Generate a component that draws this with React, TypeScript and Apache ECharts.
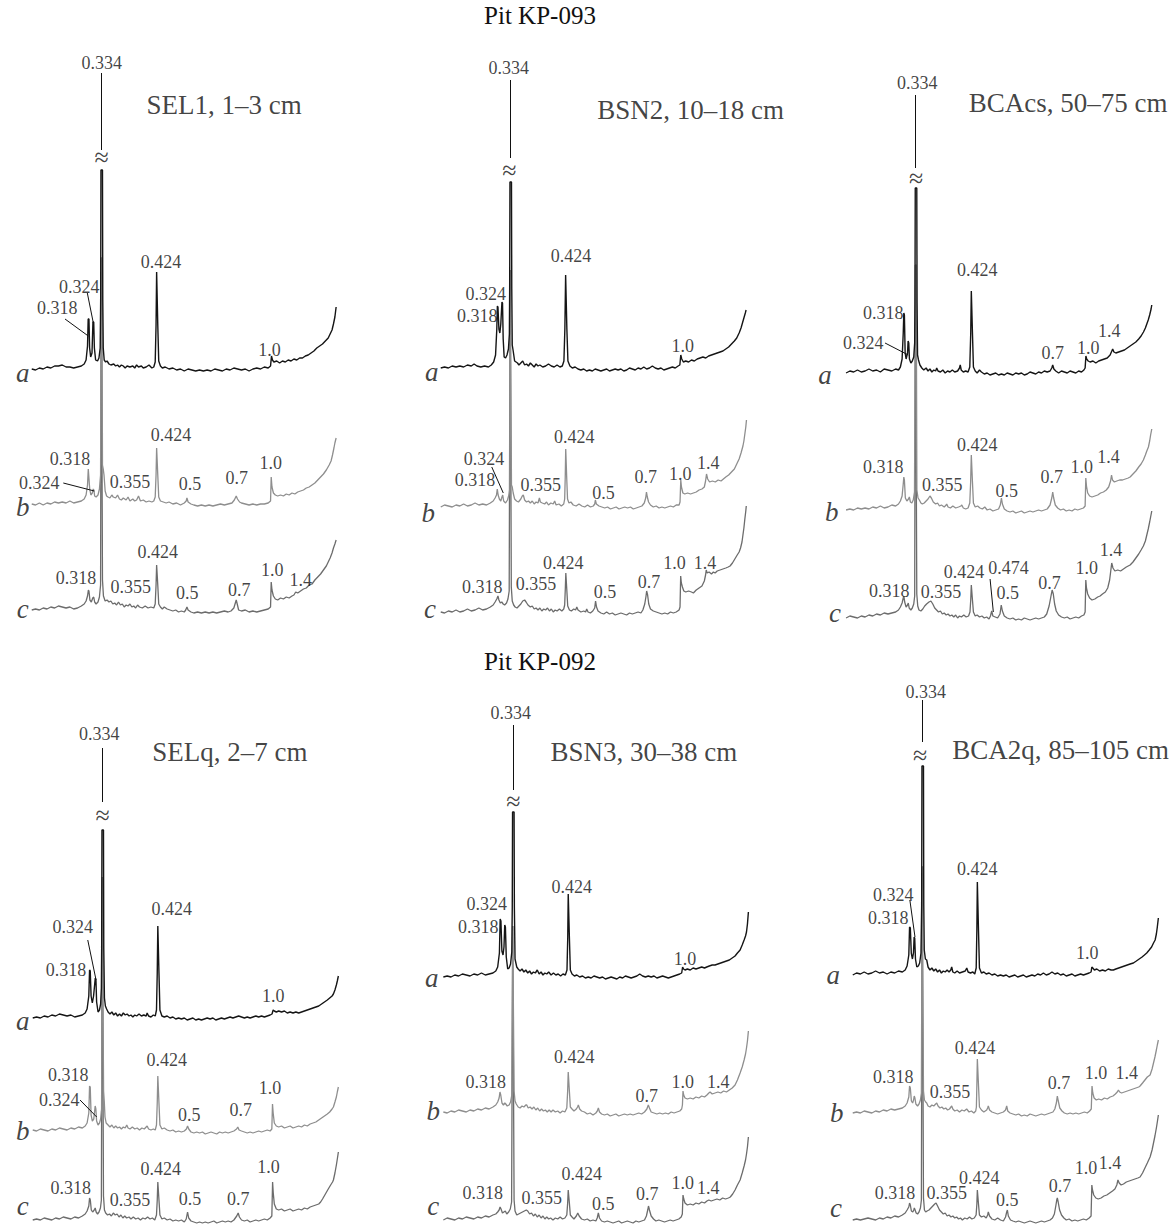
import React, { useEffect, useRef } from "react";
import * as echarts from "echarts";

// ---------- Data: [2θ (deg, CuKα), intensity above trace baseline] flat pairs ----------
// Panel 1: SEL1, 1–3 cm
const P1_A = [34.0,1, 33.6,0, 33.2,2, 32.8,1, 32.4,3, 32.0,2, 31.6,4, 31.2,4, 30.8,5, 30.4,3, 30.0,3, 29.6,2, 29.2,3, 28.8,4, 28.5,6, 28.3,10, 28.15,24, 28.08,51, 28.0,51, 27.93,22, 27.82,13, 27.68,17, 27.58,48, 27.5,48, 27.43,22, 27.3,10, 27.1,9, 26.95,12, 26.82,22, 26.77,70, 26.74,200, 26.58,200, 26.55,70, 26.5,22, 26.4,10, 26.25,8, 26.1,9, 25.9,6, 25.7,5, 25.4,6, 25.2,4, 25.0,5, 24.8,3, 24.6,5, 24.4,4, 24.2,2, 24.0,4, 23.7,3, 23.4,4, 23.2,2, 23.0,5, 22.8,3, 22.5,4, 22.3,2, 22.0,3, 21.7,5, 21.4,2, 21.2,3, 21.05,8, 20.96,45, 20.9,98, 20.84,98, 20.78,45, 20.68,9, 20.5,4, 20.3,2, 20.0,3, 19.6,1, 19.2,2, 18.8,0, 18.4,1, 18.0,-1, 17.6,1, 17.2,0, 16.8,-1, 16.4,0, 16.0,-1, 15.6,0, 15.2,-1, 14.8,1, 14.4,0, 14.0,-1, 13.6,1, 13.2,0, 12.8,2, 12.4,1, 12.0,0, 11.6,1, 11.2,-1, 10.8,1, 10.4,2, 10.0,1, 9.6,3, 9.2,2, 8.95,4, 8.85,14, 8.75,10, 8.6,8, 8.3,9, 8.0,7, 7.7,9, 7.4,8, 7.1,10, 6.8,9, 6.5,11, 6.2,10, 5.9,12, 5.6,12, 5.3,14, 5.0,15, 4.7,17, 4.4,19, 4.1,22, 3.8,24, 3.5,26, 3.2,29, 2.9,32, 2.7,36, 2.5,40, 2.35,46, 2.2,53, 2.07,63];
const P1_B = [34.0,1, 33.6,0, 33.2,2, 32.8,0, 32.4,2, 32.0,1, 31.6,3, 31.2,2, 30.8,3, 30.4,2, 30.0,4, 29.6,2, 29.2,3, 28.8,4, 28.5,6, 28.3,10, 28.15,20, 28.07,36, 28.0,36, 27.92,16, 27.8,10, 27.65,12, 27.55,16, 27.48,15, 27.4,9, 27.25,8, 27.05,10, 26.9,16, 26.78,30, 26.72,247, 26.64,247, 26.58,40, 26.5,36, 26.42,30, 26.3,14, 26.15,9, 26.0,8, 25.8,7, 25.6,10, 25.45,8, 25.2,7, 25.0,10, 24.8,6, 24.6,5, 24.4,7, 24.1,5, 23.9,8, 23.7,4, 23.4,6, 23.2,4, 23.0,5, 22.8,9, 22.6,4, 22.3,5, 22.0,3, 21.7,4, 21.4,3, 21.2,4, 21.05,8, 20.96,30, 20.9,57, 20.84,57, 20.78,30, 20.68,8, 20.5,4, 20.2,3, 19.9,2, 19.6,3, 19.2,1, 18.8,2, 18.4,0, 18.0,2, 17.8,4, 17.72,7, 17.6,3, 17.3,1, 17.0,0, 16.6,-1, 16.2,0, 15.8,-1, 15.4,0, 15.0,-1, 14.6,0, 14.2,1, 13.8,0, 13.4,1, 13.0,2, 12.75,5, 12.55,9, 12.42,6, 12.2,3, 12.0,2, 11.6,1, 11.2,0, 10.8,1, 10.4,0, 10.0,1, 9.6,1, 9.2,2, 8.95,4, 8.88,28, 8.8,18, 8.65,12, 8.45,10, 8.2,9, 7.9,10, 7.6,9, 7.3,11, 7.0,10, 6.7,12, 6.4,11, 6.1,13, 5.8,14, 5.5,15, 5.2,17, 4.9,18, 4.6,20, 4.3,22, 4.0,25, 3.7,28, 3.4,31, 3.1,35, 2.8,40, 2.6,44, 2.45,50, 2.3,57, 2.2,62, 2.07,67];
const P1_C = [34.0,0, 33.6,1, 33.2,0, 32.8,2, 32.4,1, 32.0,3, 31.6,2, 31.2,4, 30.8,3, 30.4,2, 30.0,3, 29.6,1, 29.2,2, 28.8,4, 28.5,6, 28.3,9, 28.15,14, 28.06,20, 28.0,19, 27.9,10, 27.75,8, 27.6,12, 27.5,13, 27.4,8, 27.25,6, 27.05,8, 26.9,13, 26.78,25, 26.71,352, 26.65,352, 26.58,30, 26.48,14, 26.3,9, 26.1,10, 25.9,8, 25.7,9, 25.5,6, 25.3,7, 25.1,5, 24.9,8, 24.7,5, 24.5,6, 24.3,3, 24.1,5, 23.9,4, 23.7,6, 23.5,3, 23.3,4, 23.1,2, 22.9,5, 22.7,3, 22.4,2, 22.1,4, 21.8,2, 21.5,3, 21.2,2, 21.05,6, 20.96,25, 20.9,45, 20.84,45, 20.78,25, 20.68,6, 20.5,3, 20.3,1, 20.1,3, 19.8,1, 19.5,0, 19.2,-1, 18.9,0, 18.6,-2, 18.3,-1, 18.0,-2, 17.85,0, 17.72,3, 17.6,0, 17.3,-2, 17.0,-3, 16.6,-2, 16.2,-3, 15.8,-2, 15.4,-3, 15.0,-2, 14.6,-3, 14.2,-2, 13.8,-1, 13.4,-2, 13.1,-1, 12.8,2, 12.55,10, 12.42,5, 12.3,0, 12.0,-1, 11.6,0, 11.2,-2, 10.8,-1, 10.4,-2, 10.0,-1, 9.6,0, 9.2,1, 8.95,3, 8.88,28, 8.8,20, 8.65,14, 8.45,11, 8.2,10, 7.9,12, 7.6,11, 7.3,13, 7.0,12, 6.7,14, 6.5,15, 6.31,18, 6.1,17, 5.8,19, 5.5,21, 5.2,22, 4.9,25, 4.6,26, 4.3,30, 4.0,33, 3.7,36, 3.4,40, 3.1,44, 2.9,48, 2.7,52, 2.5,57, 2.35,62, 2.2,66, 2.07,70];

// Panel 2: BSN2, 10–18 cm
const P2_A = [34.0,1, 33.6,2, 33.2,1, 32.8,3, 32.4,2, 32.0,3, 31.6,2, 31.2,4, 30.8,3, 30.5,5, 30.2,3, 29.8,2, 29.4,3, 29.0,2, 28.7,4, 28.45,7, 28.25,14, 28.12,40, 28.06,63, 28.0,62, 27.9,40, 27.8,36, 27.7,45, 27.58,67, 27.52,66, 27.45,30, 27.35,12, 27.2,11, 27.05,14, 26.9,20, 26.8,35, 26.77,80, 26.74,187, 26.58,187, 26.55,80, 26.5,24, 26.4,18, 26.25,8, 26.1,7, 25.95,6, 25.8,4, 25.6,6, 25.4,8, 25.2,4, 25.0,5, 24.8,3, 24.6,6, 24.4,4, 24.2,2, 24.0,5, 23.8,3, 23.6,4, 23.3,2, 23.0,3, 22.7,5, 22.4,3, 22.1,2, 21.8,4, 21.5,2, 21.25,3, 21.08,8, 20.98,40, 20.9,94, 20.84,94, 20.77,40, 20.66,8, 20.45,3, 20.2,1, 19.9,2, 19.6,0, 19.3,-1, 19.0,0, 18.7,-2, 18.4,-1, 18.1,-2, 17.8,0, 17.5,-1, 17.2,-2, 16.9,-1, 16.6,0, 16.3,-2, 16.0,-1, 15.7,0, 15.4,-1, 15.1,0, 14.8,-2, 14.5,-1, 14.2,1, 13.9,0, 13.6,-1, 13.3,1, 13.0,0, 12.7,2, 12.4,0, 12.1,1, 11.8,3, 11.5,1, 11.2,0, 10.9,1, 10.6,-1, 10.3,0, 10.0,1, 9.7,2, 9.4,1, 9.1,3, 8.92,4, 8.82,14, 8.72,10, 8.55,7, 8.3,8, 8.0,7, 7.7,9, 7.4,8, 7.1,10, 6.8,11, 6.5,12, 6.2,11, 5.9,13, 5.6,14, 5.3,15, 5.0,16, 4.7,17, 4.4,18, 4.1,20, 3.8,22, 3.5,25, 3.2,28, 2.95,31, 2.7,36, 2.5,41, 2.35,46, 2.2,51, 2.05,56, 1.97,59];
const P2_B = [34.0,0, 33.6,2, 33.2,1, 32.8,0, 32.4,2, 32.0,1, 31.6,3, 31.2,1, 30.8,2, 30.4,4, 30.0,2, 29.6,3, 29.2,2, 28.8,4, 28.5,6, 28.3,9, 28.15,12, 28.07,18, 27.98,12, 27.85,8, 27.7,6, 27.58,10, 27.5,12, 27.4,6, 27.2,4, 27.0,7, 26.85,12, 26.76,18, 26.71,237, 26.64,237, 26.58,22, 26.5,20, 26.4,14, 26.25,8, 26.05,6, 25.85,5, 25.6,8, 25.45,11, 25.34,12, 25.2,7, 25.0,5, 24.8,6, 24.6,4, 24.4,6, 24.2,3, 24.0,5, 23.8,4, 23.65,9, 23.55,5, 23.35,4, 23.1,3, 22.9,5, 22.7,2, 22.45,4, 22.2,3, 22.05,6, 21.9,2, 21.6,3, 21.35,1, 21.1,3, 21.0,8, 20.94,30, 20.89,58, 20.84,58, 20.79,30, 20.7,8, 20.55,4, 20.35,5, 20.1,2, 19.8,1, 19.5,3, 19.2,1, 18.9,0, 18.6,2, 18.3,0, 18.0,1, 17.85,3, 17.78,7, 17.68,3, 17.4,1, 17.1,0, 16.8,-1, 16.5,0, 16.2,-2, 15.9,-1, 15.6,0, 15.3,-2, 15.0,-1, 14.7,0, 14.4,-1, 14.1,0, 13.8,-2, 13.5,-1, 13.2,0, 12.9,1, 12.65,4, 12.5,9, 12.42,15, 12.33,10, 12.2,5, 12.0,2, 11.7,0, 11.4,1, 11.1,-1, 10.8,0, 10.5,-1, 10.2,0, 9.9,1, 9.6,0, 9.3,2, 9.0,2, 8.9,5, 8.82,27, 8.75,20, 8.6,14, 8.4,13, 8.1,14, 7.8,13, 7.5,14, 7.2,15, 6.9,17, 6.6,18, 6.35,20, 6.22,26, 6.12,33, 6.0,28, 5.8,25, 5.5,26, 5.2,25, 4.9,27, 4.6,26, 4.35,28, 4.1,30, 3.8,32, 3.5,35, 3.2,38, 2.95,43, 2.7,48, 2.5,54, 2.3,61, 2.2,66, 2.1,73, 2.0,80, 1.93,87];
const P2_C = [34.0,1, 33.6,0, 33.2,2, 32.8,1, 32.4,3, 32.0,1, 31.6,2, 31.2,4, 30.8,2, 30.4,3, 30.0,5, 29.6,3, 29.2,4, 28.8,6, 28.5,8, 28.3,11, 28.12,14, 28.0,17, 27.9,13, 27.75,10, 27.6,11, 27.45,9, 27.3,8, 27.1,10, 26.95,14, 26.82,22, 26.72,343, 26.66,343, 26.6,26, 26.5,12, 26.35,8, 26.2,6, 26.0,5, 25.8,7, 25.6,9, 25.4,12, 25.2,13, 25.05,11, 24.85,8, 24.6,6, 24.4,7, 24.2,4, 24.0,5, 23.8,3, 23.6,5, 23.4,2, 23.2,4, 23.0,3, 22.8,5, 22.6,2, 22.4,4, 22.2,1, 22.0,3, 21.8,2, 21.55,4, 21.3,2, 21.1,4, 21.0,8, 20.93,25, 20.88,40, 20.83,40, 20.77,22, 20.68,7, 20.5,3, 20.3,2, 20.05,4, 19.85,3, 19.73,6, 19.6,3, 19.3,1, 19.0,2, 18.8,1, 18.69,4, 18.55,1, 18.3,0, 18.05,2, 17.85,5, 17.76,12, 17.66,6, 17.5,2, 17.2,0, 16.9,-1, 16.6,1, 16.3,-1, 16.0,0, 15.7,-2, 15.4,-1, 15.1,0, 14.8,-1, 14.5,-2, 14.2,0, 13.9,-1, 13.6,0, 13.3,1, 13.0,0, 12.8,3, 12.6,9, 12.48,16, 12.4,22, 12.3,18, 12.18,9, 12.0,4, 11.7,2, 11.4,1, 11.1,0, 10.8,-1, 10.5,0, 10.2,-1, 9.9,1, 9.6,0, 9.3,1, 9.0,3, 8.9,6, 8.83,37, 8.76,30, 8.65,26, 8.5,22, 8.3,21, 8.0,22, 7.7,21, 7.5,20, 7.2,23, 6.9,25, 6.6,27, 6.35,32, 6.22,38, 6.15,43, 6.05,40, 5.85,41, 5.6,39, 5.4,41, 5.22,40, 5.0,42, 4.7,43, 4.4,44, 4.1,45, 3.85,46, 3.65,47, 3.4,50, 3.15,54, 2.9,58, 2.7,61, 2.55,65, 2.4,71, 2.3,78, 2.2,85, 2.1,94, 2.0,102, 1.95,107];

// Panel 3: BCAcs, 50–75 cm
const P3_A = [34.0,0, 33.6,2, 33.2,1, 32.8,3, 32.4,1, 32.0,2, 31.6,4, 31.2,2, 30.8,3, 30.4,1, 30.0,4, 29.6,3, 29.2,2, 28.8,4, 28.5,3, 28.3,6, 28.12,14, 28.0,40, 27.94,60, 27.88,58, 27.8,20, 27.7,14, 27.55,20, 27.49,32, 27.42,30, 27.35,14, 27.2,10, 27.05,12, 26.9,16, 26.8,30, 26.77,70, 26.74,185, 26.58,185, 26.55,70, 26.5,18, 26.4,13, 26.25,8, 26.05,5, 25.85,3, 25.6,5, 25.4,2, 25.2,4, 25.0,1, 24.8,3, 24.6,2, 24.49,5, 24.35,2, 24.1,1, 23.85,3, 23.6,0, 23.35,2, 23.1,1, 22.85,3, 22.6,1, 22.3,2, 22.1,5, 22.02,8, 21.92,3, 21.7,1, 21.45,2, 21.2,1, 21.02,6, 20.92,40, 20.86,82, 20.8,82, 20.74,40, 20.64,6, 20.45,2, 20.25,0, 20.0,3, 19.8,1, 19.5,-1, 19.2,0, 18.9,-2, 18.6,-1, 18.3,0, 18.0,-2, 17.7,-1, 17.4,-2, 17.1,0, 16.8,-1, 16.5,-2, 16.2,0, 15.9,-1, 15.6,0, 15.3,-2, 15.0,-1, 14.7,1, 14.4,0, 14.1,-1, 13.8,1, 13.5,0, 13.2,2, 12.9,1, 12.6,2, 12.42,5, 12.32,8, 12.2,4, 12.0,2, 11.7,0, 11.4,2, 11.1,1, 10.8,0, 10.5,2, 10.2,1, 9.9,0, 9.6,2, 9.3,1, 9.05,3, 8.92,5, 8.84,17, 8.76,14, 8.6,12, 8.4,11, 8.1,12, 7.8,10, 7.5,12, 7.2,13, 6.9,14, 6.6,15, 6.3,18, 6.12,22, 6.03,24, 5.9,21, 5.7,20, 5.4,21, 5.1,22, 4.8,23, 4.5,25, 4.2,27, 3.9,29, 3.6,31, 3.3,34, 3.05,37, 2.8,41, 2.6,45, 2.45,49, 2.3,53, 2.15,58, 2.0,64, 1.93,68];
const P3_B = [34.0,0, 33.6,1, 33.2,0, 32.8,2, 32.4,1, 32.0,2, 31.6,1, 31.2,3, 30.8,2, 30.4,4, 30.0,2, 29.6,3, 29.2,5, 28.8,4, 28.5,6, 28.3,9, 28.12,14, 28.0,26, 27.94,33, 27.88,30, 27.78,12, 27.62,9, 27.45,11, 27.36,13, 27.25,8, 27.1,7, 26.95,10, 26.82,18, 26.72,245, 26.64,245, 26.57,20, 26.45,12, 26.31,10, 26.15,7, 26.0,6, 25.8,7, 25.6,9, 25.4,11, 25.2,14, 25.05,12, 24.85,8, 24.6,6, 24.4,7, 24.2,4, 24.0,5, 23.7,3, 23.5,5, 23.44,6, 23.3,3, 23.05,2, 22.8,4, 22.5,2, 22.2,3, 21.95,4, 21.86,5, 21.7,2, 21.45,1, 21.2,2, 21.02,7, 20.93,28, 20.86,55, 20.8,55, 20.74,28, 20.64,7, 20.45,3, 20.2,4, 19.95,2, 19.7,1, 19.45,3, 19.2,0, 18.9,1, 18.6,-1, 18.3,0, 18.0,1, 17.82,5, 17.7,12, 17.6,6, 17.4,1, 17.1,-1, 16.8,-2, 16.5,-1, 16.2,-3, 15.9,-2, 15.6,-1, 15.3,-3, 15.0,-2, 14.7,-1, 14.4,-2, 14.1,-1, 13.8,0, 13.5,-1, 13.2,0, 12.9,1, 12.6,5, 12.42,12, 12.32,18, 12.22,12, 12.05,5, 11.8,2, 11.5,0, 11.2,1, 10.9,-1, 10.6,0, 10.3,-1, 10.0,1, 9.7,0, 9.4,1, 9.1,2, 8.92,4, 8.85,32, 8.78,24, 8.65,17, 8.45,14, 8.2,13, 7.9,14, 7.6,15, 7.3,17, 7.0,18, 6.7,20, 6.45,23, 6.25,29, 6.15,35, 6.05,30, 5.85,28, 5.6,29, 5.3,30, 5.0,30, 4.7,31, 4.4,32, 4.2,33, 3.9,36, 3.6,39, 3.3,43, 3.05,46, 2.81,50, 2.6,55, 2.45,59, 2.28,63, 2.15,69, 2.05,75, 1.93,81];
const P3_C = [34.0,0, 33.6,2, 33.2,1, 32.8,0, 32.4,2, 32.0,1, 31.6,3, 31.2,2, 30.8,4, 30.4,3, 30.0,5, 29.6,4, 29.2,5, 28.8,6, 28.5,8, 28.3,11, 28.12,15, 28.0,20, 27.93,22, 27.85,16, 27.7,11, 27.55,13, 27.47,15, 27.38,10, 27.2,8, 27.05,10, 26.9,14, 26.8,22, 26.72,353, 26.65,353, 26.58,24, 26.48,12, 26.35,8, 26.15,7, 25.95,9, 25.75,12, 25.55,14, 25.3,16, 25.1,17, 24.9,14, 24.7,10, 24.5,8, 24.3,6, 24.1,7, 23.9,4, 23.7,5, 23.5,3, 23.3,4, 23.1,2, 22.9,3, 22.7,1, 22.5,3, 22.3,0, 22.1,2, 21.9,1, 21.65,3, 21.4,1, 21.15,2, 21.0,6, 20.92,18, 20.86,33, 20.8,33, 20.74,18, 20.64,6, 20.45,2, 20.25,3, 20.0,1, 19.75,2, 19.5,0, 19.25,1, 19.0,-1, 18.85,2, 18.72,7, 18.6,2, 18.35,1, 18.1,0, 17.85,4, 17.72,13, 17.6,7, 17.4,2, 17.1,0, 16.8,-1, 16.5,0, 16.2,-2, 15.9,-1, 15.6,-2, 15.3,0, 15.0,-1, 14.7,-2, 14.4,-1, 14.1,0, 13.8,-1, 13.5,0, 13.2,1, 12.95,4, 12.7,12, 12.5,22, 12.38,28, 12.26,24, 12.12,14, 11.95,7, 11.7,3, 11.4,1, 11.1,0, 10.8,1, 10.5,-1, 10.2,0, 9.9,1, 9.6,0, 9.3,2, 9.05,3, 8.92,6, 8.85,38, 8.78,30, 8.65,24, 8.45,20, 8.2,18, 7.9,19, 7.6,21, 7.35,22, 7.1,24, 6.8,26, 6.55,30, 6.35,38, 6.22,48, 6.13,55, 6.0,50, 5.8,47, 5.5,48, 5.2,47, 4.9,49, 4.6,51, 4.2,53, 3.9,56, 3.6,60, 3.3,64, 3.05,68, 2.81,72, 2.6,77, 2.45,83, 2.3,89, 2.15,96, 2.05,101, 1.93,107];

// Panel 4: SELq, 2–7 cm
const P4_A = [34.0,0, 33.6,1, 33.2,0, 32.8,2, 32.4,1, 32.0,3, 31.6,2, 31.2,4, 30.8,3, 30.4,2, 30.0,3, 29.6,1, 29.2,2, 28.8,3, 28.5,5, 28.3,9, 28.12,22, 28.04,48, 27.97,47, 27.88,22, 27.75,15, 27.62,22, 27.44,40, 27.37,38, 27.3,16, 27.15,6, 27.0,8, 26.88,14, 26.8,30, 26.77,70, 26.74,188, 26.58,188, 26.55,70, 26.48,20, 26.38,12, 26.25,9, 26.1,6, 25.9,4, 25.7,6, 25.5,3, 25.3,5, 25.1,2, 24.9,4, 24.7,2, 24.5,5, 24.3,3, 24.1,4, 23.9,2, 23.7,3, 23.5,1, 23.3,3, 23.1,2, 22.85,4, 22.6,2, 22.35,3, 22.1,2, 22.0,5, 21.85,2, 21.6,1, 21.35,3, 21.15,2, 21.02,8, 20.94,45, 20.88,92, 20.82,92, 20.76,45, 20.66,8, 20.45,2, 20.2,1, 19.9,2, 19.6,0, 19.3,1, 19.0,-1, 18.7,0, 18.4,-1, 18.1,0, 17.8,-2, 17.5,-1, 17.2,0, 16.9,-2, 16.6,-1, 16.3,-2, 16.0,-1, 15.7,0, 15.4,-1, 15.1,0, 14.8,-2, 14.5,-1, 14.2,0, 13.9,-1, 13.6,0, 13.3,1, 13.0,0, 12.7,1, 12.4,2, 12.1,1, 11.8,0, 11.5,1, 11.2,0, 10.9,1, 10.6,2, 10.3,1, 10.0,2, 9.7,1, 9.4,2, 9.1,3, 8.9,4, 8.78,8, 8.66,7, 8.45,6, 8.2,7, 7.9,6, 7.6,7, 7.3,5, 7.0,6, 6.7,5, 6.4,6, 6.1,5, 5.8,6, 5.5,7, 5.2,8, 4.9,9, 4.6,10, 4.3,11, 4.0,12, 3.7,14, 3.4,16, 3.1,18, 2.85,20, 2.6,22, 2.46,24, 2.3,28, 2.15,33, 2.05,37, 1.94,42];
const P4_B = [34.0,1, 33.6,0, 33.2,2, 32.8,1, 32.4,0, 32.0,2, 31.6,1, 31.2,3, 30.8,2, 30.4,1, 30.0,3, 29.6,2, 29.2,4, 28.8,3, 28.5,5, 28.3,8, 28.12,18, 28.04,45, 27.97,44, 27.88,16, 27.75,10, 27.6,12, 27.45,25, 27.38,22, 27.3,10, 27.15,6, 27.0,8, 26.88,12, 26.78,22, 26.71,254, 26.64,254, 26.57,40, 26.5,30, 26.42,14, 26.3,8, 26.1,6, 25.9,4, 25.7,6, 25.5,3, 25.3,5, 25.1,3, 24.9,4, 24.7,2, 24.5,4, 24.3,3, 24.14,6, 24.0,3, 23.8,2, 23.55,4, 23.3,2, 23.05,3, 22.8,1, 22.55,3, 22.3,2, 22.1,4, 22.0,5, 21.85,2, 21.6,1, 21.35,2, 21.15,1, 21.02,6, 20.94,28, 20.88,55, 20.82,55, 20.76,28, 20.66,6, 20.45,2, 20.2,3, 19.9,1, 19.6,0, 19.3,1, 19.0,-1, 18.7,0, 18.4,-1, 18.1,0, 17.88,2, 17.76,5, 17.64,2, 17.4,-1, 17.1,-2, 16.8,-1, 16.5,-2, 16.2,-1, 15.9,-3, 15.6,-2, 15.3,-1, 15.0,-2, 14.7,-3, 14.4,-1, 14.1,-2, 13.8,-1, 13.5,-2, 13.2,-1, 12.9,0, 12.62,2, 12.49,4, 12.36,1, 12.1,0, 11.8,-1, 11.5,-2, 11.2,-1, 10.9,-2, 10.6,-1, 10.3,0, 10.0,-1, 9.7,0, 9.4,1, 9.1,0, 8.92,2, 8.85,27, 8.78,18, 8.66,8, 8.45,5, 8.2,4, 7.9,5, 7.6,3, 7.3,4, 7.0,5, 6.7,3, 6.4,4, 6.1,5, 5.8,4, 5.5,6, 5.2,5, 4.9,7, 4.6,8, 4.3,9, 4.0,11, 3.7,13, 3.4,15, 3.1,17, 2.85,19, 2.6,22, 2.46,24, 2.3,29, 2.15,34, 2.05,39, 1.94,44];
const P4_C = [34.0,0, 33.6,1, 33.2,0, 32.8,2, 32.4,1, 32.0,0, 31.6,2, 31.2,1, 30.8,3, 30.4,2, 30.0,1, 29.6,3, 29.2,2, 28.8,4, 28.5,6, 28.3,9, 28.12,14, 28.04,22, 27.96,20, 27.86,10, 27.72,8, 27.55,10, 27.45,12, 27.35,8, 27.2,6, 27.05,8, 26.9,12, 26.8,20, 26.71,343, 26.65,343, 26.58,24, 26.48,10, 26.35,7, 26.15,5, 25.95,6, 25.75,4, 25.55,7, 25.35,5, 25.15,6, 24.95,3, 24.75,5, 24.55,2, 24.35,4, 24.15,2, 23.9,3, 23.7,1, 23.45,3, 23.2,1, 22.95,2, 22.7,0, 22.45,2, 22.2,1, 21.95,3, 21.7,1, 21.45,2, 21.2,0, 21.02,5, 20.94,20, 20.88,38, 20.82,38, 20.76,20, 20.66,5, 20.45,1, 20.2,2, 19.9,0, 19.6,1, 19.3,-1, 19.0,0, 18.7,-1, 18.4,0, 18.1,-2, 17.9,1, 17.76,8, 17.64,2, 17.4,-1, 17.1,-2, 16.8,-3, 16.5,-2, 16.2,-3, 15.9,-2, 15.6,-3, 15.3,-2, 15.0,-1, 14.7,-3, 14.4,-2, 14.1,-1, 13.8,-2, 13.5,-1, 13.2,-2, 12.9,0, 12.6,4, 12.45,7, 12.32,3, 12.1,0, 11.8,-1, 11.5,0, 11.2,-2, 10.9,-1, 10.6,0, 10.3,-1, 10.0,0, 9.7,1, 9.4,0, 9.1,2, 8.92,4, 8.84,38, 8.77,27, 8.66,16, 8.45,11, 8.2,10, 7.9,11, 7.6,9, 7.3,10, 7.0,11, 6.7,9, 6.4,10, 6.1,11, 5.8,10, 5.5,12, 5.2,11, 4.9,13, 4.6,14, 4.3,15, 4.0,16, 3.8,18, 3.6,21, 3.3,26, 3.0,31, 2.75,35, 2.55,38, 2.46,40, 2.3,47, 2.15,55, 2.05,61, 1.94,68];

// Panel 5: BSN3, 30–38 cm
const P5_A = [34.0,0, 33.6,1, 33.2,0, 32.8,2, 32.4,1, 32.0,3, 31.6,2, 31.2,1, 30.8,3, 30.4,2, 30.0,4, 29.6,2, 29.2,3, 28.8,4, 28.5,6, 28.3,10, 28.12,24, 28.04,58, 27.96,56, 27.86,26, 27.74,22, 27.64,30, 27.56,52, 27.49,50, 27.4,20, 27.25,8, 27.1,9, 26.95,13, 26.82,25, 26.77,70, 26.74,165, 26.58,165, 26.55,70, 26.48,18, 26.3,10, 26.15,8, 25.95,6, 25.75,8, 25.55,5, 25.35,7, 25.15,4, 24.95,6, 24.75,3, 24.55,5, 24.35,4, 24.15,7, 23.95,3, 23.75,5, 23.55,2, 23.35,4, 23.15,3, 22.95,5, 22.7,2, 22.45,4, 22.2,2, 21.95,3, 21.7,1, 21.45,3, 21.2,2, 21.03,7, 20.95,40, 20.9,83, 20.84,83, 20.78,40, 20.68,7, 20.5,3, 20.25,1, 20.0,2, 19.7,0, 19.4,1, 19.1,-1, 18.8,0, 18.5,-1, 18.2,1, 17.9,0, 17.6,-1, 17.3,0, 17.0,-2, 16.7,-1, 16.4,0, 16.1,-1, 15.8,-2, 15.5,0, 15.2,-1, 14.9,1, 14.6,0, 14.3,-1, 14.0,0, 13.7,1, 13.4,3, 13.1,1, 12.8,0, 12.5,1, 12.2,0, 11.9,1, 11.6,-1, 11.3,0, 11.0,1, 10.7,0, 10.4,-1, 10.1,0, 9.8,1, 9.5,2, 9.2,3, 9.0,4, 8.9,10, 8.8,8, 8.65,7, 8.4,8, 8.1,7, 7.8,9, 7.5,8, 7.2,9, 6.9,10, 6.6,9, 6.37,10, 6.1,11, 5.8,12, 5.5,12, 5.2,13, 4.9,14, 4.6,15, 4.3,16, 4.0,17, 3.7,19, 3.4,21, 3.15,24, 2.87,27, 2.65,32, 2.45,37, 2.3,41, 2.2,45, 2.1,53, 2.0,65];
const P5_B = [34.0,1, 33.6,0, 33.2,2, 32.8,1, 32.4,3, 32.0,2, 31.6,1, 31.2,3, 30.8,2, 30.4,4, 30.0,3, 29.6,5, 29.2,4, 28.8,6, 28.5,8, 28.3,11, 28.15,15, 28.06,21, 27.98,18, 27.85,10, 27.7,8, 27.55,10, 27.45,9, 27.3,7, 27.1,8, 26.95,11, 26.82,18, 26.72,187, 26.65,187, 26.58,22, 26.48,12, 26.35,9, 26.15,6, 25.95,5, 25.75,7, 25.55,6, 25.35,8, 25.25,8, 25.1,5, 24.9,6, 24.7,4, 24.5,6, 24.3,3, 24.1,5, 23.9,2, 23.7,4, 23.5,2, 23.3,3, 23.1,1, 22.9,3, 22.7,1, 22.5,3, 22.25,1, 22.0,2, 21.75,0, 21.5,2, 21.25,1, 21.05,5, 20.96,22, 20.9,41, 20.84,41, 20.78,22, 20.68,6, 20.5,4, 20.3,2, 20.05,4, 19.92,6, 19.84,8, 19.7,4, 19.5,2, 19.2,1, 18.9,-1, 18.6,0, 18.3,-2, 18.0,0, 17.85,2, 17.74,5, 17.62,1, 17.4,-1, 17.1,-2, 16.8,-1, 16.5,-3, 16.2,-2, 15.9,-1, 15.6,-3, 15.3,-2, 15.0,-1, 14.7,-2, 14.4,-1, 14.1,-2, 13.8,-1, 13.5,0, 13.2,-1, 12.9,1, 12.65,4, 12.5,8, 12.38,5, 12.2,1, 11.9,0, 11.6,-1, 11.3,0, 11.0,-1, 10.7,0, 10.4,-1, 10.1,1, 9.8,0, 9.5,1, 9.2,2, 9.0,4, 8.92,8, 8.86,22, 8.79,18, 8.65,15, 8.4,14, 8.1,15, 7.8,14, 7.5,16, 7.2,15, 6.9,17, 6.6,16, 6.35,18, 6.15,20, 6.02,21, 5.8,19, 5.5,20, 5.2,21, 4.9,20, 4.6,22, 4.3,21, 4.0,23, 3.7,25, 3.4,28, 3.15,33, 2.87,40, 2.65,46, 2.45,53, 2.3,59, 2.2,65, 2.1,72, 2.0,82];
const P5_C = [34.0,0, 33.6,2, 33.2,1, 32.8,0, 32.4,2, 32.0,1, 31.6,3, 31.2,2, 30.8,1, 30.4,3, 30.0,2, 29.6,4, 29.2,3, 28.8,5, 28.5,6, 28.3,8, 28.15,10, 28.05,13, 27.95,11, 27.8,7, 27.65,8, 27.5,9, 27.35,6, 27.15,8, 26.98,11, 26.84,18, 26.72,294, 26.65,294, 26.58,20, 26.48,9, 26.3,5, 26.1,6, 25.9,7, 25.7,8, 25.5,9, 25.3,10, 25.15,9, 24.95,6, 24.75,7, 24.55,4, 24.35,6, 24.15,3, 23.95,5, 23.75,2, 23.55,4, 23.35,1, 23.15,3, 22.95,1, 22.75,2, 22.5,0, 22.25,2, 22.0,1, 21.75,3, 21.5,1, 21.25,2, 21.05,5, 20.96,17, 20.9,30, 20.84,30, 20.78,17, 20.68,5, 20.5,3, 20.3,1, 20.05,4, 19.9,7, 19.75,4, 19.5,1, 19.2,0, 18.9,1, 18.6,-1, 18.3,0, 18.0,-1, 17.86,2, 17.74,7, 17.62,2, 17.4,-1, 17.1,-2, 16.8,-1, 16.5,-2, 16.2,-3, 15.9,-2, 15.6,-1, 15.3,-3, 15.0,-2, 14.7,-1, 14.4,-2, 14.1,-3, 13.8,-1, 13.5,-2, 13.2,-1, 12.9,0, 12.7,4, 12.56,10, 12.48,14, 12.38,10, 12.2,4, 11.95,1, 11.7,-1, 11.4,0, 11.1,-1, 10.8,-2, 10.5,-1, 10.2,0, 9.9,-1, 9.6,0, 9.3,1, 9.05,3, 8.93,6, 8.86,25, 8.78,21, 8.65,17, 8.4,15, 8.1,16, 7.8,15, 7.5,17, 7.2,16, 6.9,18, 6.6,17, 6.35,19, 6.15,20, 5.9,19, 5.6,20, 5.3,21, 5.0,20, 4.7,22, 4.4,21, 4.1,22, 3.9,23, 3.65,26, 3.4,30, 3.15,35, 2.87,40, 2.65,47, 2.45,54, 2.3,60, 2.2,66, 2.1,73, 2.0,83];

// Panel 6: BCA2q, 85–105 cm
const P6_A = [34.0,0, 33.6,2, 33.2,1, 32.8,3, 32.4,1, 32.0,2, 31.6,4, 31.2,2, 30.8,3, 30.4,1, 30.0,3, 29.6,2, 29.2,4, 28.8,3, 28.5,5, 28.3,9, 28.12,20, 28.04,48, 27.96,47, 27.86,22, 27.74,16, 27.63,22, 27.56,38, 27.5,37, 27.42,16, 27.28,8, 27.12,9, 26.98,12, 26.84,22, 26.77,70, 26.74,209, 26.58,209, 26.55,70, 26.5,25, 26.38,16, 26.24,15, 26.1,8, 25.9,5, 25.7,7, 25.5,4, 25.3,6, 25.1,3, 24.9,5, 24.7,2, 24.5,4, 24.3,3, 24.1,5, 23.9,3, 23.72,5, 23.62,8, 23.5,3, 23.3,2, 23.05,4, 22.8,2, 22.5,3, 22.2,4, 22.04,7, 21.9,3, 21.65,2, 21.4,3, 21.2,1, 21.05,7, 20.98,45, 20.93,93, 20.87,93, 20.81,45, 20.71,7, 20.5,2, 20.25,3, 20.0,1, 19.7,2, 19.4,0, 19.1,1, 18.8,-1, 18.5,0, 18.2,-1, 17.9,0, 17.6,-2, 17.3,-1, 17.0,0, 16.7,-2, 16.4,-1, 16.1,0, 15.8,-2, 15.5,-1, 15.2,0, 14.9,-1, 14.6,1, 14.3,0, 14.0,2, 13.7,0, 13.4,1, 13.1,3, 12.8,1, 12.5,2, 12.2,0, 11.9,1, 11.6,-1, 11.3,0, 11.0,1, 10.7,-1, 10.4,0, 10.1,1, 9.8,0, 9.5,1, 9.2,2, 9.0,3, 8.92,8, 8.82,7, 8.65,5, 8.4,6, 8.1,4, 7.8,5, 7.5,4, 7.2,6, 6.9,5, 6.66,5, 6.4,6, 6.1,7, 5.8,8, 5.5,9, 5.2,10, 4.9,11, 4.56,12, 4.25,14, 3.95,16, 3.65,18, 3.4,20, 3.16,22, 2.9,25, 2.65,28, 2.45,32, 2.28,35, 2.15,41, 2.05,48, 1.94,57];
const P6_B = [34.0,0, 33.6,1, 33.2,0, 32.8,2, 32.4,1, 32.0,0, 31.6,2, 31.2,1, 30.8,3, 30.4,2, 30.0,4, 29.6,3, 29.2,4, 28.8,5, 28.5,7, 28.3,10, 28.12,16, 28.04,27, 27.96,25, 27.85,12, 27.72,10, 27.62,13, 27.55,17, 27.48,15, 27.38,9, 27.2,7, 27.05,9, 26.9,13, 26.8,20, 26.72,247, 26.65,247, 26.58,22, 26.48,13, 26.35,11, 26.24,10, 26.1,7, 25.9,6, 25.7,8, 25.5,7, 25.3,9, 25.19,10, 25.05,7, 24.85,5, 24.65,6, 24.45,4, 24.25,5, 24.05,3, 23.85,4, 23.7,6, 23.62,7, 23.5,4, 23.3,2, 23.05,3, 22.8,1, 22.55,3, 22.3,2, 22.05,4, 21.8,1, 21.55,2, 21.3,0, 21.1,2, 21.03,6, 20.98,28, 20.93,54, 20.87,54, 20.81,28, 20.71,6, 20.5,3, 20.25,1, 19.95,3, 19.85,5, 19.78,7, 19.65,3, 19.4,1, 19.1,0, 18.8,-1, 18.5,0, 18.2,1, 17.97,3, 17.85,7, 17.74,2, 17.5,0, 17.2,-1, 16.9,-2, 16.6,-1, 16.3,-3, 16.0,-2, 15.7,-3, 15.4,-1, 15.1,-2, 14.8,-3, 14.5,-2, 14.2,-1, 13.9,-2, 13.6,-1, 13.3,0, 13.0,1, 12.8,4, 12.64,10, 12.54,17, 12.44,12, 12.28,5, 12.05,2, 11.8,0, 11.5,-1, 11.2,0, 10.9,-1, 10.6,0, 10.3,-1, 10.0,0, 9.7,1, 9.4,0, 9.15,2, 8.98,4, 8.9,27, 8.82,20, 8.68,15, 8.45,13, 8.2,14, 7.9,13, 7.6,15, 7.3,14, 7.0,16, 6.7,17, 6.45,19, 6.25,21, 6.13,23, 6.0,21, 5.8,20, 5.5,21, 5.2,22, 4.9,23, 4.6,24, 4.3,25, 4.0,26, 3.86,27, 3.6,30, 3.35,33, 3.1,36, 2.81,38, 2.6,44, 2.45,50, 2.3,56, 2.15,63, 2.05,68, 1.94,73];
const P6_C = [34.0,0, 33.6,1, 33.2,0, 32.8,1, 32.4,2, 32.0,1, 31.6,0, 31.2,2, 30.8,1, 30.4,3, 30.0,2, 29.6,4, 29.2,3, 28.8,5, 28.5,7, 28.3,10, 28.12,13, 28.04,17, 27.96,15, 27.85,9, 27.7,8, 27.6,10, 27.54,12, 27.46,10, 27.35,7, 27.2,6, 27.05,8, 26.9,12, 26.8,20, 26.72,353, 26.65,353, 26.58,22, 26.48,10, 26.35,8, 26.2,9, 26.0,10, 25.8,12, 25.6,14, 25.4,16, 25.26,17, 25.1,14, 24.9,10, 24.7,8, 24.5,6, 24.3,7, 24.1,4, 23.9,5, 23.7,3, 23.5,4, 23.3,2, 23.1,3, 22.9,1, 22.7,2, 22.5,0, 22.25,2, 22.0,1, 21.75,3, 21.5,1, 21.25,2, 21.06,5, 20.98,16, 20.93,30, 20.87,30, 20.81,16, 20.71,5, 20.5,3, 20.25,4, 20.0,2, 19.85,5, 19.78,8, 19.65,4, 19.4,1, 19.1,0, 18.8,2, 18.5,0, 18.2,-1, 17.97,3, 17.85,8, 17.78,10, 17.68,4, 17.45,0, 17.2,-1, 16.9,-2, 16.6,-1, 16.3,-2, 16.0,-3, 15.7,-2, 15.4,-1, 15.1,-2, 14.8,-3, 14.5,-2, 14.2,-1, 13.9,-2, 13.6,-1, 13.3,0, 13.05,2, 12.85,6, 12.7,14, 12.6,20, 12.54,22, 12.45,18, 12.3,10, 12.1,5, 11.85,2, 11.6,0, 11.3,1, 11.0,-1, 10.7,0, 10.4,-1, 10.1,0, 9.8,1, 9.5,0, 9.2,2, 9.0,4, 8.92,35, 8.85,30, 8.72,25, 8.5,22, 8.25,21, 7.95,22, 7.65,24, 7.35,25, 7.05,27, 6.75,29, 6.5,31, 6.3,35, 6.18,40, 6.05,37, 5.85,35, 5.6,36, 5.3,38, 5.0,39, 4.7,40, 4.4,41, 4.1,42, 3.86,43, 3.6,47, 3.35,52, 3.1,57, 2.81,63, 2.6,70, 2.45,77, 2.3,84, 2.15,92, 2.05,98, 1.94,105];

// ---------- Texts ----------
const PIT_TITLES = ["Pit KP-093", "Pit KP-092"];
const PANEL_TITLES = ["SEL1, 1–3 cm", "BSN2, 10–18 cm", "BCAcs, 50–75 cm", "SELq, 2–7 cm", "BSN3, 30–38 cm", "BCA2q, 85–105 cm"];
const QUARTZ_LABEL = "0.334";
const BREAK_MARK = "≈";

// peak labels: [trace, text, 2θ, height above trace baseline]
const P1_LABELS: any[] = [["a","0.318",31.32,62],["a","0.324",29.01,83],["a","0.424",20.44,108],["a","1.0",9.07,20],
  ["b","0.318",29.99,46],["b","0.324",33.21,22],["b","0.355",23.69,23],["b","0.424",19.39,70],["b","0.5",17.39,21],["b","0.7",12.49,27],["b","1.0",8.93,42],
  ["c","0.318",29.36,32],["c","0.355",23.62,23],["c","0.424",20.78,58],["c","0.5",17.68,17],["c","0.7",12.22,20],["c","1.0",8.76,40],["c","1.4",5.78,30]];
const P2_LABELS: any[] = [["a","0.324",29.28,75],["a","0.318",30.16,53],["a","0.424",20.33,113],["a","1.0",8.61,23],
  ["b","0.424",19.99,70],["b","0.324",29.46,48],["b","0.318",30.41,27],["b","0.355",23.51,22],["b","0.5",16.94,14],["b","0.7",12.49,30],["b","1.0",8.88,33],["b","1.4",5.93,44],
  ["c","0.318",29.64,26],["c","0.355",24.0,29],["c","0.424",21.14,50],["c","0.5",16.76,21],["c","0.7",12.15,31],["c","1.0",9.49,50],["c","1.4",6.27,50]];
const P3_LABELS: any[] = [["a","0.318",30.09,60],["a","0.324",32.19,30],["a","0.424",20.23,103],["a","0.7",12.32,20],["a","1.0",8.58,25],["a","1.4",6.38,42],
  ["b","0.318",30.09,43],["b","0.355",23.9,25],["b","0.424",20.23,65],["b","0.5",17.14,19],["b","0.7",12.42,33],["b","1.0",9.27,43],["b","1.4",6.48,53],
  ["c","0.318",29.46,27],["c","0.355",24.04,26],["c","0.424",21.62,46],["c","0.474",16.97,50],["c","0.5",17.04,25],["c","0.7",12.67,35],["c","1.0",8.75,50],["c","1.4",6.21,68]];
const P4_LABELS: any[] = [["a","0.324",29.81,91],["a","0.318",30.51,48],["a","0.424",19.42,109],["a","1.0",8.76,22],
  ["b","0.424",19.94,71],["b","0.318",30.27,56],["b","0.324",31.21,31],["b","0.5",17.57,16],["b","0.7",12.18,21],["b","1.0",9.1,43],
  ["c","0.424",20.57,51],["c","0.318",30.02,32],["c","0.355",23.8,20],["c","0.5",17.5,21],["c","0.7",12.43,21],["c","1.0",9.28,53]];
const P5_LABELS: any[] = [["a","0.324",29.45,73],["a","0.318",30.33,50],["a","0.424",20.53,90],["a","1.0",8.64,18],
  ["b","0.424",20.26,56],["b","0.318",29.56,31],["b","0.7",12.66,17],["b","1.0",8.88,31],["b","1.4",5.15,31],
  ["c","0.424",19.48,46],["c","0.318",29.87,27],["c","0.355",23.68,22],["c","0.5",17.22,16],["c","0.7",12.6,26],["c","1.0",8.88,37],["c","1.4",6.2,32]];
const P6_LABELS: any[] = [["a","0.324",29.74,80],["a","0.318",30.27,57],["a","0.424",20.93,106],["a","1.0",9.39,22],
  ["b","0.424",21.17,65],["b","0.318",29.75,36],["b","0.355",23.8,21],["b","0.7",12.36,30],["b","1.0",8.48,40],["b","1.4",5.25,40],
  ["c","0.424",20.72,42],["c","0.318",29.57,27],["c","0.355",24.14,27],["c","0.5",17.78,20],["c","0.7",12.25,34],["c","1.0",9.53,52],["c","1.4",7.01,57]];

// leader lines: [trace, 2θ1, h1, 2θ2, h2]
const P1_LEADERS: any[] = [["a",30.51,51,28.07,34],["a",28.17,77,27.54,47],["b",30.69,22,27.44,14]];
const P2_LEADERS: any[] = [["b",28.65,40,27.44,14]];
const P3_LEADERS: any[] = [["a",29.91,30,27.47,18],["c",18.89,39,18.55,6]];
const P4_LEADERS: any[] = [["a",28.23,78,27.36,38],["b",29.04,31,27.29,14]];
const P5_LEADERS: any[] = [];
const P6_LEADERS: any[] = [["a",28.01,75,27.47,38]];

// quartz marker (relative to trace a): [label 2θ, label h, line 2θ, line h bottom, line h top, ≈ 2θ, ≈ h]
const P1_QUARTZ = [26.66,307, 26.66,220,297, 26.66,213];
const P2_QUARTZ = [26.87,301, 26.68,211,289, 26.81,199];
const P3_QUARTZ = [26.52,290, 26.73,205,278, 26.66,195];
const P4_QUARTZ = [27.02,284, 26.66,216,270, 26.66,203];
const P5_QUARTZ = [26.93,264, 26.66,187,252, 26.66,176];
const P6_QUARTZ = [26.35,283, 26.66,233,275, 26.94,220];

// title anchor (left edge) relative to trace a: [2θ, h]
const TITLE_POS = [[22.01,265],[17.64,259],[21.17,270],[21.52,266],[22.81,225],[23.62,225]];

// trace letters: [letter, 2θ, h]
const P1_LETTERS: any[] = [["a",34.95,-3],["b",34.95,-2],["c",34.95,1]];
const P2_LETTERS: any[] = [["a",34.95,-3],["b",35.31,-6],["c",35.13,4]];
const P3_LETTERS: any[] = [["a",36.21,-2],["b",35.51,-2],["c",35.16,5]];
const P4_LETTERS: any[] = [["a",35.05,-3],["b",35.05,0],["c",35.05,14]];
const P5_LETTERS: any[] = [["a",35.22,-1],["b",35.05,2],["c",35.05,14]];
const P6_LETTERS: any[] = [["a",36.04,0],["b",35.68,0],["c",35.76,12]];

// ---------- Layout (positions / styles) ----------
const LAYOUT = [
  { left: 31.75, top: 40, height: 590, off: { a: 260, b: 125, c: 20 } },
  { left: 440.75, top: 40, height: 590, off: { a: 261, b: 123, c: 17 } },
  { left: 846.05, top: 40, height: 590, off: { a: 257, b: 120, c: 12 } },
  { left: 32.75, top: 680, height: 544, off: { a: 206, b: 93, c: 4 } },
  { left: 443.35, top: 680, height: 544, off: { a: 247, b: 111, c: 4 } },
  { left: 852.75, top: 680, height: 544, off: { a: 249, b: 111, c: 4 } },
];
const GRID_W = 306;
const X_MIN = 1.9, X_MAX = 34;
const FONT = '"Liberation Serif", "Times New Roman", "DejaVu Serif", serif';
const COLORS: any = { a: "#151515", b: "#8e8e8e", c: "#6c6c6c" };
const WIDTHS: any = { a: 1.4, b: 1.3, c: 1.3 };
const LABEL_SIZE = 18;
const TITLE_SIZE = 27;
const PIT_SIZE = 25;

const PANELS = [
  { a: P1_A, b: P1_B, c: P1_C, labels: P1_LABELS, leaders: P1_LEADERS, quartz: P1_QUARTZ, letters: P1_LETTERS },
  { a: P2_A, b: P2_B, c: P2_C, labels: P2_LABELS, leaders: P2_LEADERS, quartz: P2_QUARTZ, letters: P2_LETTERS },
  { a: P3_A, b: P3_B, c: P3_C, labels: P3_LABELS, leaders: P3_LEADERS, quartz: P3_QUARTZ, letters: P3_LETTERS },
  { a: P4_A, b: P4_B, c: P4_C, labels: P4_LABELS, leaders: P4_LEADERS, quartz: P4_QUARTZ, letters: P4_LETTERS },
  { a: P5_A, b: P5_B, c: P5_C, labels: P5_LABELS, leaders: P5_LEADERS, quartz: P5_QUARTZ, letters: P5_LETTERS },
  { a: P6_A, b: P6_B, c: P6_C, labels: P6_LABELS, leaders: P6_LEADERS, quartz: P6_QUARTZ, letters: P6_LETTERS },
];

function pairs(flat: number[]): number[][] {
  const out: number[][] = [];
  for (let i = 0; i < flat.length; i += 2) out.push([flat[i], flat[i + 1]]);
  return out;
}

function textItem(x: number, y: number, text: string, size: number, extra: any = {}) {
  return {
    value: [x, y],
    label: {
      show: true,
      position: "inside",
      formatter: text,
      fontSize: size,
      fontFamily: FONT,
      color: "#111",
      ...extra,
    },
  };
}

function buildOption() {
  const grid: any[] = [];
  const xAxis: any[] = [];
  const yAxis: any[] = [];
  const series: any[] = [];

  PANELS.forEach((p: any, i) => {
    const L = LAYOUT[i];
    grid.push({ left: L.left, top: L.top, width: GRID_W, height: L.height, containLabel: false });
    xAxis.push({ type: "value", gridIndex: i, min: X_MIN, max: X_MAX, inverse: true, show: false });
    yAxis.push({ type: "value", gridIndex: i, min: 0, max: L.height, show: false });

    (["c", "b", "a"] as const).forEach((k, zi) => {
      series.push({
        type: "line",
        xAxisIndex: i,
        yAxisIndex: i,
        data: pairs(p[k]).map(([x, y]) => [x, y + (L.off as any)[k]]),
        symbol: "none",
        showSymbol: false,
        lineStyle: { color: COLORS[k], width: WIDTHS[k] },
        clip: false,
        silent: true,
        z: 2 + zi,
      });
    });

    const q = p.quartz;
    const segs = p.leaders.map(([k, x1, h1, x2, h2]: any) => ({
      coords: [[x1, h1 + (L.off as any)[k]], [x2, h2 + (L.off as any)[k]]],
    }));
    segs.push({ coords: [[q[2], q[3] + L.off.a], [q[2], q[4] + L.off.a]] });
    series.push({
      type: "lines",
      coordinateSystem: "cartesian2d",
      xAxisIndex: i,
      yAxisIndex: i,
      data: segs,
      lineStyle: { color: "#111", width: 1, opacity: 1, type: "solid" },
      silent: true,
      z: 6,
    });

    const texts: any[] = [];
    p.labels.forEach(([k, t, x, h]: any) => texts.push(textItem(x, h + (L.off as any)[k], t, LABEL_SIZE)));
    texts.push(textItem(q[0], q[1] + L.off.a, QUARTZ_LABEL, LABEL_SIZE));
    texts.push(textItem(q[5], q[6] + L.off.a, BREAK_MARK, 26));
    p.letters.forEach(([k, x, h]: any) =>
      texts.push(textItem(x, h + (L.off as any)[k], k, 27, { fontStyle: "italic" }))
    );
    const tp = TITLE_POS[i];
    texts.push(textItem(tp[0], tp[1] + L.off.a, PANEL_TITLES[i], TITLE_SIZE, { position: "right", distance: 0 }));
    series.push({
      type: "scatter",
      xAxisIndex: i,
      yAxisIndex: i,
      data: texts,
      symbolSize: 1,
      itemStyle: { color: "rgba(0,0,0,0)" },
      clip: false,
      silent: true,
      z: 7,
    });
  });

  return {
    animation: false,
    backgroundColor: "#ffffff",
    grid,
    xAxis,
    yAxis,
    series,
    graphic: [
      { type: "text", x: 540, y: 15, style: { text: PIT_TITLES[0], font: `${PIT_SIZE}px ${FONT}`, fill: "#111", align: "center", verticalAlign: "middle" } },
      { type: "text", x: 540, y: 661, style: { text: PIT_TITLES[1], font: `${PIT_SIZE}px ${FONT}`, fill: "#111", align: "center", verticalAlign: "middle" } },
    ],
  };
}

export default function App() {
  const ref = useRef<HTMLDivElement>(null);
  useEffect(() => {
    if (!ref.current) return;
    const chart = echarts.init(ref.current, undefined, { renderer: "svg" });
    chart.setOption(buildOption() as any);
    return () => chart.dispose();
  }, []);
  return (
    <div
      ref={ref}
      style={{ position: "absolute", left: 0, top: 0, width: 1171, height: 1224, background: "#fff" }}
    />
  );
}
